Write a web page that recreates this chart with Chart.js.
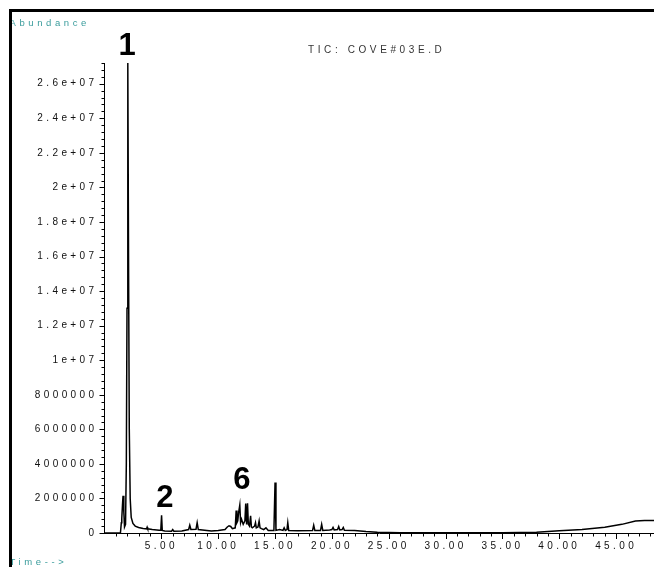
<!DOCTYPE html>
<html>
<head>
<meta charset="utf-8">
<script src="https://cdn.jsdelivr.net/npm/chart.js@4.4.1/dist/chart.umd.min.js"></script>
<style>
html, body { margin: 0; padding: 0; background: #fff; }
canvas { display: block; }
</style>
</head>
<body>
<canvas id="tic" width="654" height="567"></canvas>
<script>
// retention time (min)
const retentionTimes = [
    0, 1.40, 1.48, 1.52, 1.58, 1.63, 1.70, 1.76, 1.85, 1.92, 1.98, 2.05, 2.12, 2.18, 2.26, 2.35,
    2.50, 2.70, 3.00, 3.40, 3.70, 3.75, 3.80, 4.20, 4.80, 4.95, 5.02, 5.08, 5.30, 5.90, 6.00, 6.10,
    6.80, 7.40, 7.50, 7.60, 8.05, 8.15, 8.25, 9.00, 9.40, 10.00, 10.60, 10.80, 10.95, 11.10, 11.25,
    11.50, 11.58, 11.65, 11.72, 11.80, 11.90, 11.97, 12.05, 12.20, 12.35, 12.42, 12.50, 12.58, 12.65,
    12.75, 12.85, 12.92, 13.00, 13.20, 13.28, 13.35, 13.50, 13.60, 13.68, 13.80, 14.00, 14.20, 14.40,
    14.90, 15.00, 15.08, 15.40, 15.70, 15.80, 15.90, 16.05, 16.12, 16.20, 17.00, 18.30, 18.40, 18.50,
    19.00, 19.10, 19.20, 19.80, 20.00, 20.10, 20.20, 20.50, 20.60, 20.70, 20.90, 21.00, 21.10, 22.00,
    23.00, 24.00, 26.00, 30.00, 35.00, 38.00, 40.00, 42.00, 44.00, 45.50, 46.70, 47.50, 48.33
];

// abundance (counts)
const abundance = [
    0, 0, 600000, 850000, 1600000, 2150000, 1200000, 350000, 500000, 4000000, 13000000, 27200000,
    15000000, 6000000, 2000000, 900000,
    550000, 400000, 320000, 260000, 240000, 330000, 240000, 200000, 160000, 160000, 1020000, 150000,
    120000, 100000, 200000, 100000,
    120000, 200000, 450000, 200000, 220000, 600000, 200000, 150000, 120000, 150000, 200000, 350000,
    420000, 380000, 250000,
    300000, 1300000, 600000, 700000, 1200000, 1620000, 600000, 800000, 500000, 700000, 1700000,
    500000, 1720000, 500000,
    400000, 1000000, 350000, 300000, 400000, 600000, 300000, 350000, 700000, 300000, 250000, 200000,
    300000, 150000,
    150000, 2920000, 150000, 200000, 150000, 300000, 150000, 200000, 600000, 150000, 130000, 150000,
    450000, 150000,
    150000, 500000, 150000, 180000, 200000, 320000, 180000, 200000, 380000, 180000, 200000, 320000,
    160000, 140000,
    80000, 40000, 20000, 20000, 20000, 50000, 130000, 200000, 330000, 500000, 700000, 720000, 720000
];

// peak numbers and where they sit (time, abundance of the digit baseline)
const peakLabels = ['1', '2', '6'];
const peakLabelTimes = [1.98, 5.32, 12.09];
const peakLabelLevels = [27670000, 1520000, 2530000];

const tickFont = { family: 'Liberation Sans', size: 10 };

const yLabel = (v) => {
    const k = Math.round(v / 400000);
    if (k % 5 !== 0) return '';
    const n = k * 400000;
    if (n >= 10000000) return (n / 10000000) + 'e+07';
    return String(n);
};

const xLabel = (v) => (v > 0 && v % 5 === 0 ? v.toFixed(2) : '');

// ticks, frame and the printed texts
const decorPlugin = {
    id: 'decor',
    beforeUpdate(chart) {
        chart.ctx.letterSpacing = '3.4px';
    },
    beforeDraw(chart) {
        chart.ctx.letterSpacing = '3.4px';
    },
    afterDraw(chart) {
        const { ctx, chartArea: a, scales: { x, y } } = chart;
        ctx.save();

        ctx.strokeStyle = '#000';
        ctx.lineWidth = 1;
        ctx.beginPath();
        y.ticks.forEach(t => {
            const major = Math.round(t.value / 400000) % 5 === 0;
            const py = Math.round(y.getPixelForValue(t.value)) + 0.5;
            ctx.moveTo(a.left - (major ? 5 : 3), py);
            ctx.lineTo(a.left, py);
        });
        x.ticks.forEach(t => {
            if (t.value === 0) return;
            const major = t.value % 5 === 0;
            const px = Math.round(x.getPixelForValue(t.value)) + 0.5;
            ctx.moveTo(px, a.bottom);
            ctx.lineTo(px, a.bottom + (major ? 6 : 3.5));
        });
        ctx.stroke();

        ctx.textAlign = 'left';
        ctx.textBaseline = 'alphabetic';
        ctx.letterSpacing = '3.6px';
        ctx.fillStyle = '#3a9c9c';
        ctx.font = '9.5px "Liberation Sans"';
        ctx.fillText('Abundance', 9.5, 26);
        ctx.fillText('Time-->', 9.5, 565);

        ctx.fillStyle = '#333';
        ctx.font = '10px "Liberation Sans"';
        ctx.fillText('TIC: COVE#03E.D', 308, 53);

        ctx.letterSpacing = '0px';
        ctx.fillStyle = '#000';
        ctx.textAlign = 'center';
        ctx.font = 'bold 31px "Liberation Sans"';
        peakLabels.forEach((lab, i) => {
            ctx.fillText(lab, x.getPixelForValue(peakLabelTimes[i]), y.getPixelForValue(peakLabelLevels[i]));
        });

        // frame: top and left edges
        ctx.fillRect(9, 9, 645, 3);
        ctx.fillRect(9, 9, 3, 558);
        ctx.restore();
    }
};

const ticChart = new Chart(document.getElementById('tic'), {
    type: 'line',
    data: {
        datasets: [{
            label: 'TIC: COVE#03E.D',
            data: retentionTimes.map((t, i) => ({ x: t, y: abundance[i] })),
            borderColor: '#000',
            borderWidth: 1.5,
            pointRadius: 0,
            tension: 0,
            fill: false
        }]
    },
    options: {
        responsive: false,
        animation: false,
        devicePixelRatio: 1,
        layout: { padding: { top: 63, left: 0, right: 0, bottom: 0 } },
        plugins: {
            legend: { display: false },
            tooltip: { enabled: false }
        },
        scales: {
            x: {
                type: 'linear',
                min: 0,
                max: 48.33,
                grid: { display: true, drawOnChartArea: false, drawTicks: true, tickLength: 6, tickColor: 'rgba(0,0,0,0)' },
                border: { display: true, color: '#000', width: 1 },
                ticks: {
                    stepSize: 1,
                    autoSkip: false,
                    maxRotation: 0,
                    minRotation: 0,
                    includeBounds: false,
                    maxTicksLimit: 200,
                    padding: 1,
                    color: '#111',
                    font: tickFont,
                    callback: xLabel
                },
                afterFit: (s) => { s.height = 34; }
            },
            y: {
                type: 'linear',
                min: 0,
                max: 27200000,
                grid: { display: true, drawOnChartArea: false, drawTicks: true, tickLength: 6, tickColor: 'rgba(0,0,0,0)' },
                border: { display: true, color: '#000', width: 1 },
                ticks: {
                    stepSize: 400000,
                    autoSkip: false,
                    includeBounds: false,
                    maxTicksLimit: 200,
                    padding: 1,
                    color: '#111',
                    font: tickFont,
                    callback: yLabel
                },
                afterFit: (s) => { s.width = 104.5; }
            }
        }
    },
    plugins: [decorPlugin]
});
</script>
</body>
</html>
